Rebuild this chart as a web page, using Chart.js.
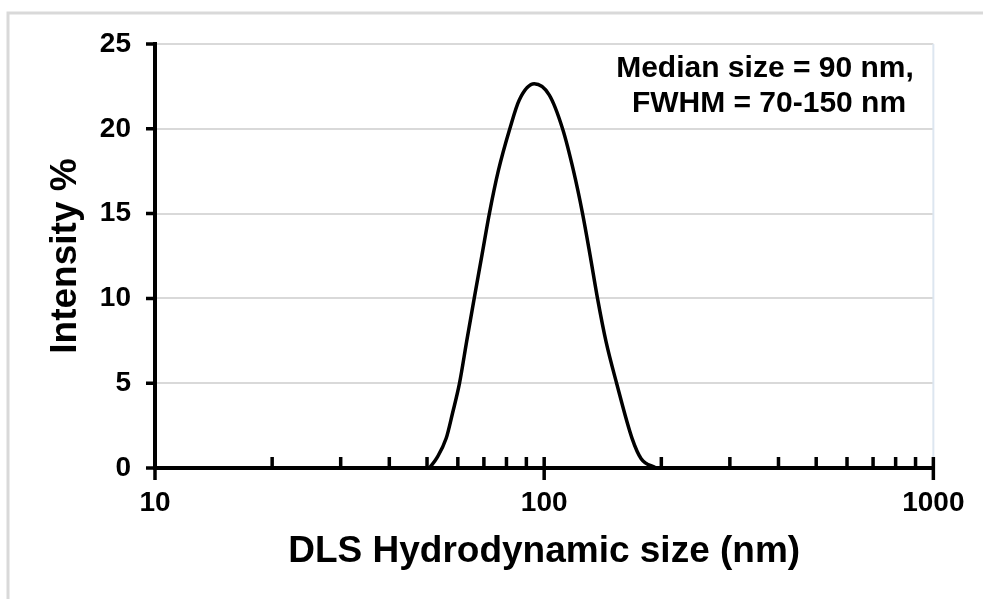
<!DOCTYPE html>
<html>
<head>
<meta charset="utf-8">
<script src="https://cdn.jsdelivr.net/npm/chart.js@4"></script>
<style>
  html, body { margin: 0; padding: 0; background: #ffffff; }
  #wrap { width: 983px; height: 599px; position: relative; }
</style>
</head>
<body>
<div id="wrap"><canvas id="c" width="983" height="599"></canvas></div>
<script>
// ---- data ----
const sizesNm   = [50.7, 53, 56, 58.1, 60.6, 63.2, 66.1, 69.2, 72.3, 76.2, 81.6, 86.3, 94.3, 103, 111.5, 119.0, 125.5, 131.2, 137.1, 144.2, 153.5, 168.2, 177.5, 193.7];
const intensity = [0, 0.6, 1.75, 3.2, 5, 7.45, 10, 12.55, 15, 17.5, 20, 21.7, 22.65, 22.0, 20.0, 17.5, 15.0, 12.55, 10, 7.45, 5, 1.75, 0.55, 0];
const xTickValues = [10, 20, 30, 40, 50, 60, 70, 80, 90, 100, 200, 300, 400, 500, 600, 700, 800, 900, 1000];
const xTickLabels = ['10', '100', '1000'];
const yTickValues = [0, 5, 10, 15, 20, 25];
const xTitle = 'DLS Hydrodynamic size (nm)';
const yTitle = 'Intensity %';
const noteLines = ['Median size = 90 nm,', 'FWHM = 70-150 nm'];

const FONT = '"Liberation Sans", Arial, sans-serif';

const frame = {
  id: 'frame',
  beforeDraw(chart) {
    const ctx = chart.ctx;
    ctx.save();
    ctx.strokeStyle = '#d9d9d9';
    ctx.lineWidth = 3;
    ctx.beginPath();
    ctx.moveTo(8, 610);
    ctx.lineTo(8, 13);
    ctx.lineTo(990, 13);
    ctx.stroke();
    ctx.restore();
  },
  afterDraw(chart) {
    const ctx = chart.ctx;
    const xs = chart.scales.x, ys = chart.scales.y;
    const a = chart.chartArea;
    ctx.save();
    ctx.strokeStyle = '#dde6f0';
    ctx.lineWidth = 2;
    ctx.beginPath();
    ctx.moveTo(a.right, a.top);
    ctx.lineTo(a.right, a.bottom);
    ctx.stroke();
    ctx.strokeStyle = '#000';
    ctx.lineWidth = 3.5;
    ctx.beginPath();
    xs.ticks.forEach(t => {
      const px = xs.getPixelForValue(t.value);
      const major = Math.abs(Math.log10(t.value) - Math.round(Math.log10(t.value))) < 1e-9;
      ctx.moveTo(px, a.bottom - 11);
      ctx.lineTo(px, major ? a.bottom + 12 : a.bottom);
    });
    ys.ticks.forEach(t => {
      const py = ys.getPixelForValue(t.value);
      ctx.moveTo(a.left - 9, py);
      ctx.lineTo(a.left, py);
    });
    ctx.stroke();
    ctx.fillStyle = '#000';
    ctx.font = 'bold 30px ' + FONT;
    ctx.textAlign = 'center';
    ctx.textBaseline = 'alphabetic';
    ctx.fillText(noteLines[0], 765, 77);
    ctx.fillText(noteLines[1], 769, 112);
    ctx.restore();
  }
};

new Chart(document.getElementById('c'), {
  type: 'line',
  data: {
    datasets: [{
      data: sizesNm.map((s, i) => ({ x: s, y: intensity[i] })),
      borderColor: '#000',
      borderWidth: 3.5,
      pointRadius: 0,
      fill: false,
      cubicInterpolationMode: 'monotone'
    }]
  },
  options: {
    responsive: false,
    animation: false,
    devicePixelRatio: 1,
    layout: { padding: { left: 0, top: 44, right: 49, bottom: 0 } },
    plugins: { legend: { display: false }, tooltip: { enabled: false } },
    scales: {
      x: {
        type: 'logarithmic',
        min: 10, max: 1000,
        afterBuildTicks(scale) { scale.ticks = xTickValues.map(v => ({ value: v })); },
        afterFit(scale) { scale.height = 131; },
        grid: { display: false, drawTicks: false },
        border: { display: true, color: '#000', width: 4 },
        ticks: {
          autoSkip: false, maxRotation: 0, padding: 18.5,
          color: '#000',
          font: { family: FONT, size: 28, weight: 'bold' },
          callback: (v) => { const s = String(v); return xTickLabels.includes(s) ? s : ''; }
        },
        title: {
          display: true, text: xTitle, color: '#000',
          font: { family: FONT, size: 37, weight: 'bold' },
          padding: { top: 0, bottom: 24.6 }
        }
      },
      y: {
        min: 0, max: 25,
        afterBuildTicks(scale) { scale.ticks = yTickValues.map(v => ({ value: v })); },
        afterFit(scale) { scale.width = 155; },
        grid: { color: '#d9d9d9', lineWidth: 2, drawTicks: false },
        border: { display: true, color: '#000', width: 4 },
        ticks: {
          padding: 24, color: '#000',
          font: { family: FONT, size: 28, weight: 'bold' }
        },
        title: {
          display: true, text: yTitle, color: '#000',
          font: { family: FONT, size: 37, weight: 'bold' },
          padding: { top: 44, bottom: 0 }
        }
      }
    }
  },
  plugins: [frame]
});
</script>
</body>
</html>
